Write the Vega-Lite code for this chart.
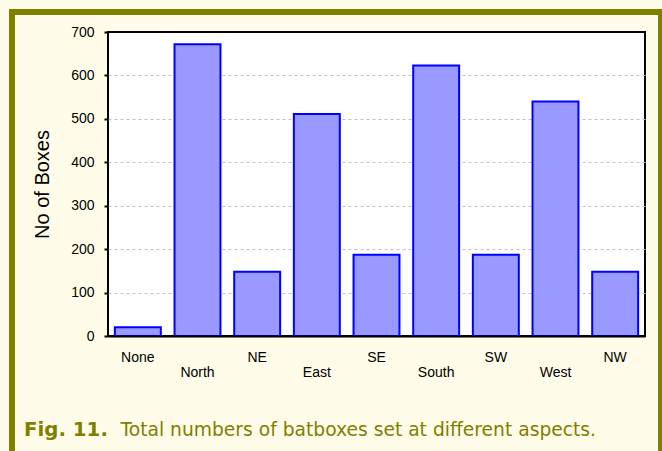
{
  "$schema": "https://vega.github.io/schema/vega-lite/v6.json",
  "width": 537,
  "height": 304,
  "autosize": {"type": "none"},
  "padding": {"left": 108, "top": 32, "right": 17, "bottom": 115},
  "background": "#fffde9",
  "data": {
    "values": [
      {"aspect": "None", "boxes": 20},
      {"aspect": "North", "boxes": 672},
      {"aspect": "NE", "boxes": 148},
      {"aspect": "East", "boxes": 511},
      {"aspect": "SE", "boxes": 187},
      {"aspect": "South", "boxes": 623},
      {"aspect": "SW", "boxes": 187},
      {"aspect": "West", "boxes": 540},
      {"aspect": "NW", "boxes": 148}
    ]
  },
  "title": {
    "text": "Fig. 11.",
    "orient": "bottom",
    "anchor": "start",
    "frame": "group",
    "font": "DejaVu Sans",
    "fontSize": 19.8,
    "fontWeight": "bold",
    "color": "#7f7f00",
    "baseline": "alphabetic",
    "dx": -84,
    "offset": -27
  },
  "layer": [
    {
      "data": {"values": [{}]},
      "mark": {"type": "rect", "filled": false, "stroke": "#808000", "strokeWidth": 6},
      "encoding": {
        "x": {"datum": 0, "type": "quantitative", "scale": {"domain": [0, 1], "range": [-96, 553]}, "axis": null},
        "x2": {"datum": 1},
        "y": {"datum": 0, "type": "quantitative", "scale": {"domain": [0, 1], "range": [428, -20]}, "axis": null},
        "y2": {"datum": 1}
      }
    },
    {
      "mark": {"type": "bar", "fill": "#9999ff", "stroke": "#0000ff", "strokeWidth": 2},
      "encoding": {
        "x": {
          "field": "aspect",
          "type": "nominal",
          "sort": null,
          "scale": {"paddingInner": 0.23, "paddingOuter": 0.115},
          "axis": {
            "title": "Total numbers of batboxes set at different aspects.",
            "domain": true,
            "domainColor": "#000000",
            "domainWidth": 2,
            "ticks": false,
            "tickSize": 0,
            "labelAngle": 0,
            "labelFont": "Liberation Sans",
            "labelFontSize": 14,
            "labelColor": "#000000",
            "labelPadding": {
              "condition": {"test": "indexof(['North','East','South','West'], datum.value) >= 0", "value": 29},
              "value": 14.5
            },
            "zindex": 1,
            "titleFont": "DejaVu Sans",
            "titleFontSize": 18.7,
            "titleFontWeight": "normal",
            "titleColor": "#7f7f00",
            "titleAlign": "left",
            "titleAnchor": "start",
            "titleBaseline": "alphabetic",
            "titleX": 12,
            "titleY": 99
          }
        },
        "y": {
          "field": "boxes",
          "type": "quantitative",
          "scale": {"domain": [0, 700], "nice": false},
          "axis": {
            "title": "No of Boxes",
            "values": [0, 100, 200, 300, 400, 500, 600, 700],
            "domain": false,
            "tickSize": 4,
            "tickWidth": 2,
            "tickColor": "#000000",
            "labelFont": "Liberation Sans",
            "labelFontSize": 14,
            "labelColor": "#000000",
            "labelPadding": 10,
            "grid": true,
            "gridColor": "#c0c0c0",
            "gridDash": [3, 3],
            "gridWidth": 1,
            "gridOpacity": {
              "condition": {"test": "datum.value === 0 || datum.value === 700", "value": 0},
              "value": 1
            },
            "titleFont": "Liberation Sans",
            "titleFontSize": 20,
            "titleFontWeight": "normal",
            "titleColor": "#000000",
            "titlePadding": 18
          }
        }
      }
    }
  ],
  "resolve": {"scale": {"x": "independent", "y": "independent"}},
  "config": {
    "view": {"fill": "#ffffff", "stroke": "#000000", "strokeWidth": 2}
  }
}
